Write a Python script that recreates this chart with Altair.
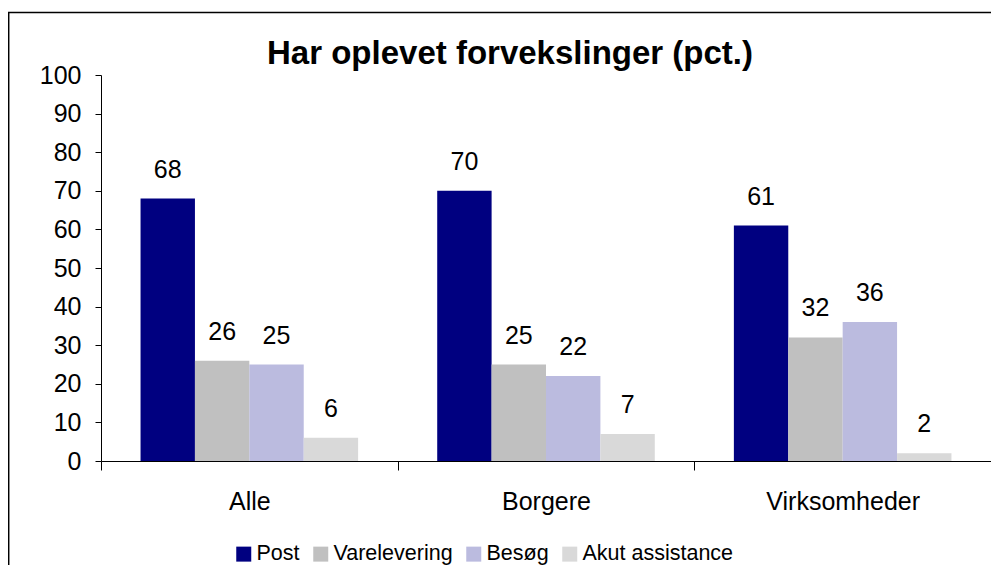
import altair as alt
import pandas as pd

categories = ["Alle", "Borgere", "Virksomheder"]
series = ["Post", "Varelevering", "Besøg", "Akut assistance"]
post = [68, 70, 61]
varelevering = [26, 25, 32]
besoeg = [25, 22, 36]
akut = [6, 7, 2]
colors = ["#000080", "#c0c0c0", "#bbbbdf", "#d9d9d9"]
y_ticks = [0, 10, 20, 30, 40, 50, 60, 70, 80, 90, 100]
title_text = "Har oplevet forvekslinger (pct.)"

rows = []
for s, vals in zip(series, [post, varelevering, besoeg, akut]):
    for c, v in zip(categories, vals):
        rows.append({"group": c, "series": s, "value": v})
df = pd.DataFrame(rows)

FONT = "Liberation Sans"

x_enc = alt.X("group:N", sort=categories, title=None,
              scale=alt.Scale(paddingInner=0, paddingOuter=0),
              axis=alt.Axis(labelAngle=0, labelFontSize=25, labelColor="black",
                            labelPadding=19, tickBand="extent", tickSize=9,
                            tickColor="black", domainColor="black",
                            labelBaseline="top"))
xo_enc = alt.XOffset("series:N", sort=series,
                     scale=alt.Scale(paddingInner=0, paddingOuter=0.727))
y_enc = alt.Y("value:Q", title=None,
              scale=alt.Scale(domain=[0, 100], nice=False),
              axis=alt.Axis(values=y_ticks, grid=False, labelFontSize=25,
                            labelColor="black", labelPadding=14, tickSize=6,
                            tickColor="black", domainColor="black"))

bars = alt.Chart(df).mark_bar().encode(
    x=x_enc, xOffset=xo_enc, y=y_enc,
    color=alt.Color("series:N", sort=series,
                    scale=alt.Scale(domain=series, range=colors),
                    legend=alt.Legend(title=None, orient="none", legendX=132,
                                      legendY=468, direction="horizontal",
                                      columns=4, symbolType="square",
                                      symbolSize=225, symbolStrokeWidth=0,
                                      labelFontSize=21.5, labelColor="black",
                                      labelOffset=2, columnPadding=10)),
)

labels = alt.Chart(df).mark_text(fontSize=25, baseline="alphabetic", dy=-21,
                                 color="black", font=FONT).encode(
    x=x_enc, xOffset=xo_enc, y=y_enc, text=alt.Text("value:Q"))

one = pd.DataFrame({"t": [title_text]})
title_mark = alt.Chart(one).mark_text(fontSize=33, fontWeight="bold",
                                      baseline="alphabetic", align="center",
                                      color="black", font=FONT).encode(
    x=alt.value(409), y=alt.value(-11), text="t:N")

top_line = alt.Chart(one).mark_rule(color="black", strokeWidth=1.5).encode(
    x=alt.value(-93), x2=alt.value(890), y=alt.value(-62.5))
left_line = alt.Chart(one).mark_rule(color="black", strokeWidth=1.5).encode(
    x=alt.value(-92.3), y=alt.value(-63), y2=alt.value(495))

chart = alt.layer(bars, labels, title_mark, top_line, left_line).properties(
    width=890, height=386,
    autosize=alt.AutoSizeParams(type="none"),
    padding={"left": 93, "top": 67, "right": 0, "bottom": 104},
).configure(font=FONT).configure_view(stroke=None)

chart.save("out.html", embed_options={"renderer": "svg", "actions": False})
